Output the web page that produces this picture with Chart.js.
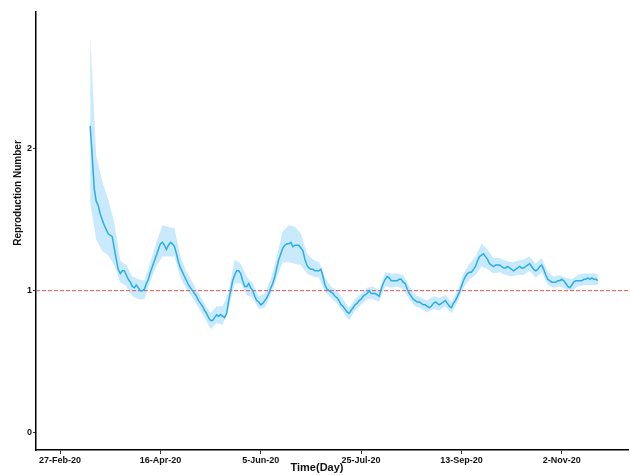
<!DOCTYPE html>
<html>
<head>
<meta charset="utf-8">
<script src="https://cdn.jsdelivr.net/npm/chart.js@4.4.1/dist/chart.umd.min.js"></script>
<style>
  body { margin: 0; background: #fff; }
  #wrap { width: 630px; height: 475px; }
</style>
</head>
<body>
<div id="wrap"><canvas id="rt" width="630" height="475"></canvas></div>
<script>
// day 0 = 27-Feb-20, one tick label every 50 days
const tickDays = [0, 50, 100, 150, 200, 250];
const tickLabels = ['27-Feb-20', '16-Apr-20', '5-Jun-20', '25-Jul-20', '13-Sep-20', '2-Nov-20'];
const yTicks = [0, 1, 2];

// daily mean R, first value is day 15
const firstDay = 15;
const rMean = [
  2.16,1.95,1.72,1.63,1.60,1.54,1.50,1.46,1.43,1.40,
  1.39,1.38,1.30,1.22,1.15,1.12,1.14,1.14,1.11,1.08,
  1.06,1.03,1.02,1.04,1.02,1.00,1.00,1.01,1.05,1.08,
  1.13,1.17,1.21,1.25,1.29,1.33,1.34,1.32,1.29,1.32,
  1.34,1.33,1.31,1.26,1.20,1.16,1.13,1.10,1.07,1.04,
  1.02,1.00,0.98,0.96,0.93,0.91,0.89,0.86,0.84,0.81,
  0.79,0.79,0.81,0.83,0.82,0.83,0.82,0.81,0.84,0.93,
  1.00,1.07,1.11,1.14,1.14,1.12,1.07,1.03,1.03,1.05,
  1.02,1.00,0.96,0.93,0.92,0.90,0.91,0.93,0.95,0.98,
  1.02,1.05,1.10,1.16,1.22,1.26,1.30,1.32,1.33,1.33,
  1.34,1.31,1.32,1.32,1.32,1.30,1.28,1.22,1.18,1.16,
  1.15,1.15,1.14,1.14,1.14,1.15,1.10,1.04,1.01,1.00,
  0.99,0.98,0.96,0.95,0.93,0.90,0.89,0.87,0.85,0.84,
  0.86,0.88,0.90,0.91,0.93,0.94,0.96,0.97,0.98,1.00,
  0.98,0.98,0.98,0.97,0.96,1.01,1.05,1.08,1.10,1.09,
  1.07,1.07,1.07,1.07,1.08,1.08,1.06,1.05,1.01,0.98,
  0.96,0.94,0.93,0.92,0.92,0.91,0.90,0.90,0.89,0.88,
  0.89,0.91,0.92,0.91,0.90,0.91,0.92,0.93,0.91,0.89,
  0.88,0.91,0.93,0.96,0.99,1.03,1.07,1.10,1.12,1.13,
  1.13,1.15,1.17,1.21,1.24,1.25,1.26,1.24,1.22,1.19,
  1.18,1.17,1.18,1.18,1.18,1.17,1.16,1.16,1.17,1.16,
  1.15,1.14,1.15,1.16,1.17,1.16,1.16,1.17,1.18,1.19,
  1.17,1.15,1.14,1.15,1.17,1.18,1.15,1.11,1.08,1.07,
  1.06,1.06,1.06,1.07,1.07,1.08,1.07,1.05,1.03,1.02,
  1.04,1.06,1.07,1.07,1.07,1.07,1.08,1.08,1.09,1.08,
  1.09,1.08,1.08,1.07
];

// 95% interval, read every 3 days
const bandDays = [
  15,18,21,24,27,30,33,36,39,42,45,48,51,54,57,60,63,66,69,72,
  75,78,81,84,87,90,93,96,99,102,105,108,111,114,117,120,123,126,129,132,
  135,138,141,144,147,150,153,156,159,162,165,168,171,174,177,180,183,186,189,192,
  195,198,201,204,207,210,213,216,219,222,225,228,231,234,237,240,243,246,249,252,
  255,258,261,264,267,268
];
const bandLow = [
  1.62,1.36,1.28,1.25,1.18,1.06,1.03,0.96,0.94,0.94,1.07,1.17,1.24,1.24,1.24,1.09,1.01,0.95,0.88,0.81,
  0.73,0.77,0.76,0.87,1.05,1.05,0.97,0.95,0.87,0.88,0.97,1.09,1.20,1.20,1.19,1.18,1.12,1.10,1.09,0.99,
  0.95,0.91,0.85,0.79,0.86,0.90,0.94,0.94,0.92,1.03,1.02,1.03,1.01,0.94,0.89,0.87,0.85,0.87,0.86,0.89,
  0.84,0.92,1.02,1.08,1.11,1.17,1.15,1.12,1.13,1.11,1.10,1.11,1.11,1.14,1.09,1.13,1.04,1.02,1.03,1.01,
  1.00,1.03,1.04,1.04,1.04,1.04
];
const bandHigh = [
  2.80,1.95,1.77,1.64,1.48,1.21,1.18,1.10,1.08,1.07,1.20,1.34,1.46,1.45,1.44,1.24,1.13,1.06,0.98,0.91,
  0.84,0.89,0.89,0.99,1.22,1.19,1.10,1.05,0.96,0.98,1.08,1.24,1.42,1.46,1.45,1.40,1.26,1.22,1.20,1.09,
  1.03,1.00,0.94,0.88,0.94,0.98,1.02,1.03,1.00,1.13,1.12,1.12,1.11,1.03,0.97,0.95,0.93,0.96,0.95,0.97,
  0.92,1.00,1.12,1.19,1.24,1.33,1.29,1.23,1.23,1.21,1.20,1.21,1.22,1.24,1.19,1.23,1.13,1.10,1.11,1.09,
  1.08,1.11,1.12,1.12,1.12,1.11
];

const threshold = 1;
const xMin = -12, xMax = 283;
const yMin = -0.122, yMax = 2.962;

const meanPts = rMean.map((v, i) => ({ x: firstDay + i, y: v }));
const lowPts = bandLow.map((v, i) => ({ x: bandDays[i], y: v }));
const highPts = bandHigh.map((v, i) => ({ x: bandDays[i], y: v }));

// axis titles sit a bit off-centre in the original, so draw them by hand
const axisTitles = {
  id: 'axisTitles',
  afterDraw(chart) {
    const c = chart.ctx;
    c.save();
    c.fillStyle = '#111';
    c.font = 'bold 11px "Liberation Sans", Arial, sans-serif';
    c.textAlign = 'center';
    c.textBaseline = 'middle';
    c.fillText('Time(Day)', 317, 468);
    c.font = 'bold 10px "Liberation Sans", Arial, sans-serif';
    c.translate(18, 193);
    c.rotate(-Math.PI / 2);
    c.fillText('Reproduction Number', 0, 0);
    c.restore();
  }
};

var ctx = document.getElementById('rt').getContext('2d');
const myChart = new Chart(ctx, {
  type: 'line',
  data: {
    datasets: [
      {
        label: 'R',
        data: meanPts,
        borderColor: '#2aaee6',
        borderWidth: 1.5,
        pointRadius: 0,
        fill: false,
        order: 0
      },
      {
        label: 'threshold',
        data: [{ x: xMin, y: threshold }, { x: xMax, y: threshold }],
        borderColor: '#e4564d',
        borderWidth: 1,
        borderDash: [4, 2],
        pointRadius: 0,
        fill: false,
        order: 1
      },
      {
        label: 'upper',
        data: highPts,
        borderWidth: 0,
        borderColor: 'rgba(0,0,0,0)',
        backgroundColor: 'rgba(135, 206, 250, 0.45)',
        pointRadius: 0,
        fill: '+1',
        order: 2
      },
      {
        label: 'lower',
        data: lowPts,
        borderWidth: 0,
        borderColor: 'rgba(0,0,0,0)',
        pointRadius: 0,
        fill: false,
        order: 3
      }
    ]
  },
  options: {
    responsive: false,
    animation: false,
    devicePixelRatio: 1,
    layout: { padding: { top: 12, right: 2, left: 0, bottom: 0 } },
    plugins: {
      legend: { display: false },
      tooltip: { enabled: false }
    },
    scales: {
      x: {
        type: 'linear',
        min: xMin,
        max: xMax,
        afterFit: (s) => { s.height = 25; },
        afterBuildTicks: (s) => { s.ticks = tickDays.map(v => ({ value: v })); },
        border: { color: '#000', width: 1.5 },
        grid: { display: true, drawOnChartArea: false, drawTicks: true, tickLength: 4, color: '#333' },
        ticks: {
          autoSkip: false,
          maxRotation: 0,
          padding: 1,
          color: '#111',
          font: { family: '"Liberation Sans", Arial, sans-serif', size: 9, weight: 'bold' },
          callback: (v) => tickLabels[tickDays.indexOf(v)]
        }
      },
      y: {
        type: 'linear',
        min: yMin,
        max: yMax,
        afterFit: (s) => { s.width = 36; },
        afterBuildTicks: (s) => { s.ticks = yTicks.map(v => ({ value: v })); },
        border: { color: '#000', width: 1.5 },
        grid: { display: true, drawOnChartArea: false, drawTicks: true, tickLength: 3, color: '#333' },
        ticks: {
          padding: 1,
          color: '#111',
          font: { family: '"Liberation Sans", Arial, sans-serif', size: 9, weight: 'bold' }
        }
      }
    }
  },
  plugins: [axisTitles]
});
</script>
</body>
</html>
